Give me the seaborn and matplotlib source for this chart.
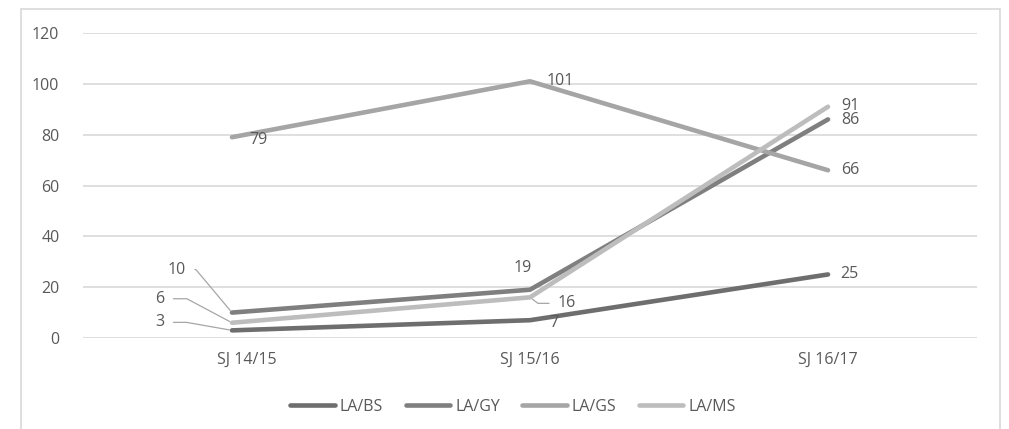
import numpy as np
import pandas as pd
import matplotlib
matplotlib.use("Agg")
import matplotlib.pyplot as plt
import matplotlib.transforms as mtransforms
from matplotlib.patches import Rectangle
import seaborn as sns

# ── Data ──────────────────────────────────────────────────────────────────────
periods = ["SJ 14/15", "SJ 15/16", "SJ 16/17"]
series_names = ["LA/BS", "LA/GY", "LA/GS", "LA/MS"]
la_bs = [3, 7, 25]
la_gy = [10, 19, 86]
la_gs = [79, 101, 66]
la_ms = [6, 16, 91]
y_ticks = [0, 20, 40, 60, 80, 100, 120]

colors = ["#6e6e6e", "#7f7f7f", "#a5a5a5", "#bdbdbd"]
TEXT = "#595959"
GRID = "#d9d9d9"

df = pd.DataFrame({
    "period": periods * 4,
    "value": la_bs + la_gy + la_gs + la_ms,
    "series": np.repeat(series_names, len(periods)),
})

# ── Style ────────────────────────────────────────────────────────────────────
sns.set_theme(style="white")
plt.rcParams["font.family"] = ["Open Sans", "DejaVu Sans"]
plt.rcParams["lines.solid_capstyle"] = "round"
FS = 11.5

fig = plt.figure(figsize=(10.09, 4.29), dpi=100)
ax = fig.add_axes([83 / 1009, 1 - 338 / 429, (977 - 83) / 1009, (338 - 33) / 429])

# outer chart frame
fig.patches.append(Rectangle((21 / 1009, -0.05), (1000 - 21) / 1009, 1.05 - 9 / 429,
                             transform=fig.transFigure, fill=False,
                             edgecolor=GRID, linewidth=1.2))

sns.lineplot(data=df, x="period", y="value", hue="series", palette=colors,
             hue_order=series_names, sort=False, linewidth=3.3, ax=ax)

ax.set_xlim(-0.5, 2.5)
ax.set_ylim(0, 120)
ax.set_yticks(y_ticks)
ax.set_yticklabels([str(t) for t in y_ticks])
ax.yaxis.grid(True, color=GRID, linewidth=1.2)
ax.set_axisbelow(True)
for s in ax.spines.values():
    s.set_visible(False)
ax.tick_params(axis="both", length=0, labelsize=FS, labelcolor=TEXT)
ax.tick_params(axis="y", pad=17)
ax.tick_params(axis="x", pad=10)
ax.set_xlabel("")
ax.set_ylabel("")

# first category label sits a bit right of its point in the original
first = ax.get_xticklabels()[0]
first.set_transform(first.get_transform()
                    + mtransforms.ScaledTranslation(0.15, 0, fig.dpi_scale_trans))

# ── Data labels ──────────────────────────────────────────────────────────────
# (series values, index, offset in pixels, ha, leader angle or None)
label_spec = [
    (la_gs, 0, (17, -3), "left", None),
    (la_gs, 1, (17, 0), "left", None),
    (la_gs, 2, (13, 0), "left", None),
    (la_ms, 2, (13, 1), "left", None),
    (la_gy, 2, (13, -1), "left", None),
    (la_bs, 2, (12, 0), "left", None),
    (la_bs, 1, (19, -3), "left", None),
    (la_gy, 1, (-7, 22), "center", None),
    (la_ms, 1, (37, -6), "center", -37),
    (la_gy, 0, (-55, 43), "center", 130),
    (la_ms, 0, (-72, 24), "center", 152),
    (la_bs, 0, (-72, 8), "center", 170),
]
for vals, i, off, ha, ang in label_spec:
    kw = {}
    if ang is not None:
        kw["arrowprops"] = dict(arrowstyle="-", color="#a6a6a6", lw=0.9,
                                shrinkA=4, shrinkB=2,
                                connectionstyle=f"angle,angleA=0,angleB={ang},rad=0")
    ax.annotate(str(vals[i]), xy=(i, vals[i]), xytext=off, textcoords="offset pixels",
                ha=ha, va="center", fontsize=FS, color=TEXT, **kw)

# ── Legend ───────────────────────────────────────────────────────────────────
sns.move_legend(ax, "center", bbox_to_anchor=(513 / 1009, 1 - 407 / 429),
                bbox_transform=fig.transFigure, ncol=4, frameon=False, title=None,
                fontsize=FS, handlelength=2.8, handletextpad=0.3, columnspacing=1.4,
                labelcolor=TEXT)

fig.savefig("out.png", dpi=100)
plt.close(fig)
